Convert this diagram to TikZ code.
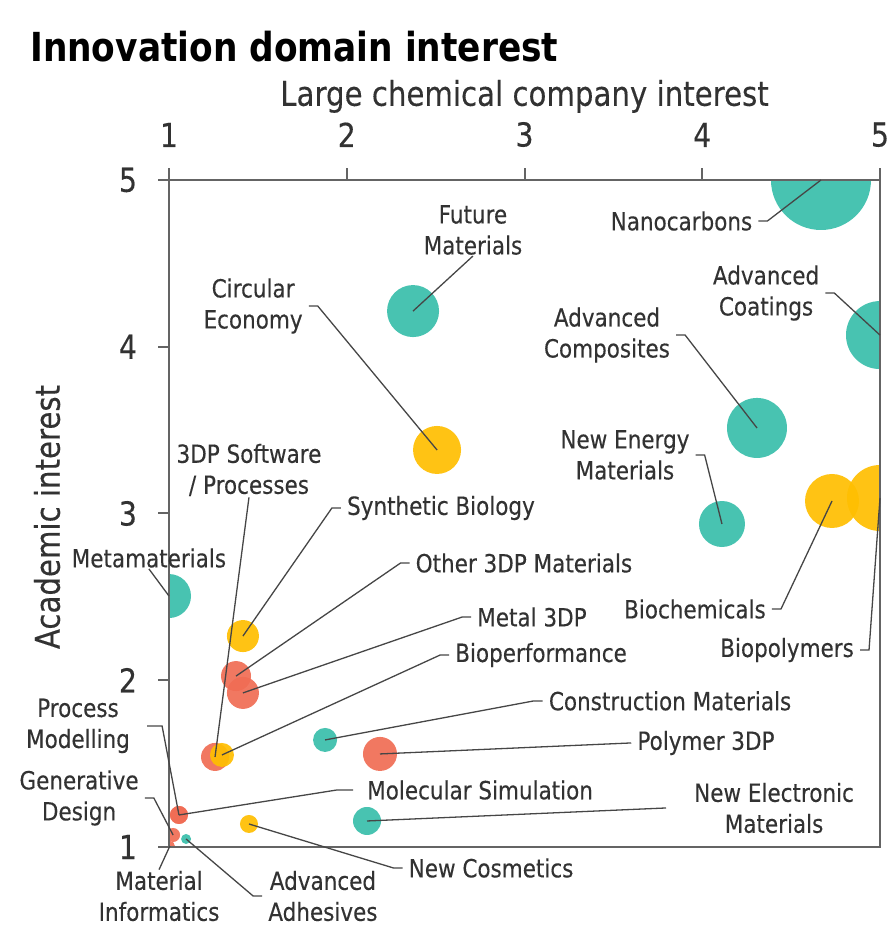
\documentclass[tikz,border=0pt]{standalone}
\usepackage{fontspec}
\setmainfont[FakeStretch=0.86,UprightFeatures={FakeBold=0.3}]{DejaVu Sans}
\usetikzlibrary{positioning}
\definecolor{mteal}{RGB}{56,190,170}
\definecolor{mgold}{RGB}{255,190,0}
\definecolor{mcoral}{RGB}{240,108,84}
\definecolor{axgray}{RGB}{100,100,100}
\definecolor{txtgray}{RGB}{50,50,50}
\definecolor{leadgray}{RGB}{70,70,70}
\begin{document}
\begin{tikzpicture}[x=177.75pt,y=166.75pt]
	\tikzset{bubble/.style = {circle,inner sep=0pt,draw=none,fill=#1,fill opacity=.92}}
	\tikzset{lbl/.style = {text=txtgray,align=center,inner xsep=6pt,inner ysep=1pt,font=\fontsize{25}{31}\selectfont}}
	\tikzset{leader/.style = {draw=leadgray,line width=1.3pt}}
	\tikzset{axis/.style = {draw=axgray,line width=2pt}}
	\tikzset{ticklbl/.style = {text=txtgray,inner sep=0pt,font=\fontsize{33}{33}\selectfont}}
	\tikzset{axtitle/.style = {text=txtgray,inner sep=0pt,font=\fontsize{34}{34}\selectfont}}
	\useasboundingbox (0.0492,0.5142) rectangle (5.0731,6.0795);
	% bubbles
	\begin{scope}
		\clip (1,1) rectangle (5,5);
		\node[bubble=mteal,minimum size=100pt] (nano) at (4.668,5.0) {};
		\node[bubble=mteal,minimum size=68pt] (coat) at (5.0,4.07) {};
		\node[bubble=mteal,minimum size=52pt] (fut) at (2.373,4.214) {};
		\node[bubble=mgold,minimum size=48pt] (circ) at (2.508,3.381) {};
		\node[bubble=mteal,minimum size=60pt] (comp) at (4.308,3.513) {};
		\node[bubble=mteal,minimum size=46pt] (energy) at (4.111,2.937) {};
		\node[bubble=mgold,minimum size=54pt] (biochem) at (4.730,3.075) {};
		\node[bubble=mgold,minimum size=66pt] (biopoly) at (5.0,3.093) {};
		\node[bubble=mteal,minimum size=44pt] (meta) at (1.0,2.505) {};
		\node[bubble=mgold,minimum size=32pt] (syn) at (1.416,2.265) {};
		\node[bubble=mcoral,minimum size=30pt] (other) at (1.377,2.025) {};
		\node[bubble=mcoral,minimum size=32pt] (metal) at (1.416,1.924) {};
		\node[bubble=mcoral,minimum size=28pt] (soft) at (1.259,1.540) {};
		\node[bubble=mgold,minimum size=24pt] (bioperf) at (1.298,1.552) {};
		\node[bubble=mteal,minimum size=24pt] (constr) at (1.878,1.642) {};
		\node[bubble=mcoral,minimum size=34pt] (poly) at (2.187,1.558) {};
		\node[bubble=mcoral,minimum size=18pt] (molsim) at (1.056,1.192) {};
		\node[bubble=mcoral,minimum size=18pt] (procmod) at (1.056,1.192) {};
		\node[bubble=mcoral,minimum size=14pt] (gendes) at (1.023,1.072) {};
		\node[bubble=mcoral,minimum size=10pt] (matinf) at (1.005,1.006) {};
		\node[bubble=mteal,minimum size=10pt] (adh) at (1.096,1.048) {};
		\node[bubble=mgold,minimum size=18pt] (cosm) at (1.450,1.138) {};
		\node[bubble=mteal,minimum size=28pt] (elec) at (2.114,1.156) {};
	\end{scope}
	% axes
	\draw[axis] (1,1) rectangle (5,5);
	\foreach \v in {1,...,5} {
		\draw[axis] (\v,5) -- ++(0,12pt) node[ticklbl,above=20pt] (tx\v) {\v};
		\draw[axis] (1,\v) -- ++(-11pt,0) node[ticklbl,left=20pt] (ty\v) {\v};
	}
	\node[anchor=west,inner sep=0pt,font=\bfseries\fontsize{40}{40}\selectfont] (title) at (0.218,5.798) {Innovation domain interest};
	\node[axtitle,above=8pt of tx3] (xtitle) {Large chemical company interest};
	\node[axtitle,rotate=90] (ytitle) at (0.314,2.979) {Academic interest};
	% labels
	\node[lbl] (lNano) at (3.883,4.754) {Nanocarbons};
	\node[lbl] (lCoat) at (4.359,4.322) {Advanced\\Coatings};
	\node[lbl] (lFut) at (2.710,4.700) {Future\\Materials};
	\node[lbl] (lCirc) at (1.473,4.244) {Circular\\Economy};
	\node[lbl] (lComp) at (3.464,4.070) {Advanced\\Composites};
	\node[lbl] (lEnergy) at (3.565,3.351) {New Energy\\Materials};
	\node[lbl] (lBiochem) at (3.959,2.427) {Biochemicals};
	\node[lbl] (lBiopoly) at (4.477,2.181) {Biopolymers};
	\node[lbl] (lMeta) at (0.887,2.733) {Metamaterials};
	\node[lbl] (lSoft) at (1.450,3.261) {3DP Software\\/ Processes};
	\node[lbl] (lSyn) at (2.530,3.033) {Synthetic Biology};
	\node[lbl] (lOther) at (2.997,2.703) {Other 3DP Materials};
	\node[lbl] (lMetal) at (3.042,2.379) {Metal 3DP};
	\node[lbl] (lBioperf) at (3.093,2.151) {Bioperformance};
	\node[lbl] (lConstr) at (3.819,1.876) {Construction Materials};
	\node[lbl] (lPoly) at (4.021,1.624) {Polymer 3DP};
	\node[lbl] (lMol) at (2.750,1.342) {Molecular Simulation};
	\node[lbl] (lElec) at (4.404,1.234) {New Electronic\\Materials};
	\node[lbl] (lProc) at (0.488,1.726) {Process\\Modelling};
	\node[lbl] (lGen) at (0.494,1.294) {Generative\\Design};
	\node[lbl] (lInf) at (0.944,0.706) {Material\\Informatics};
	\node[lbl] (lAdh) at (1.866,0.706) {Advanced\\Adhesives};
	\node[lbl] (lCos) at (2.812,0.874) {New Cosmetics};
	% leader lines
	\draw[leader] (nano.center) -- ([xshift=9pt]lNano.east) -- (lNano.east);
	\draw[leader] (coat.center) -- ([xshift=9pt]lCoat.east) -- (lCoat.east);
	\draw[leader] (fut.center) -- (lFut.south);
	\draw[leader] (circ.center) -- ([xshift=9pt]lCirc.east) -- (lCirc.east);
	\draw[leader] (comp.center) -- ([xshift=9pt]lComp.east) -- (lComp.east);
	\draw[leader] (energy.center) -- ([xshift=9pt]lEnergy.east) -- (lEnergy.east);
	\draw[leader] (biochem.center) -- ([xshift=9pt]lBiochem.east) -- (lBiochem.east);
	\draw[leader] (biopoly.center) -- ([xshift=9pt]lBiopoly.east) -- (lBiopoly.east);
	\draw[leader] (meta.center) -- (lMeta.south);
	\draw[leader] (soft.center) -- (lSoft.south);
	\draw[leader] (syn.center) -- ([xshift=-9pt]lSyn.west) -- (lSyn.west);
	\draw[leader] (other.center) -- ([xshift=-9pt]lOther.west) -- (lOther.west);
	\draw[leader] (metal.center) -- ([xshift=-9pt]lMetal.west) -- (lMetal.west);
	\draw[leader] (bioperf.center) -- ([xshift=-9pt]lBioperf.west) -- (lBioperf.west);
	\draw[leader] (constr.center) -- ([xshift=-9pt]lConstr.west) -- (lConstr.west);
	\draw[leader] (poly.center) -- (lPoly.west);
	\draw[leader] (molsim.center) -- ([xshift=-24pt]lMol.west) -- ([xshift=-8pt]lMol.west);
	\draw[leader] (elec.center) -- ([xshift=-22pt]lElec.west);
	\draw[leader] (procmod.center) -- ([xshift=26pt]lProc.east) -- ([xshift=11pt]lProc.east);
	\draw[leader] (gendes.center) -- ([xshift=9pt]lGen.east) -- (lGen.east);
	\draw[leader] (matinf.center) -- (lInf.north);
	\draw[leader] (adh.center) -- ([xshift=-9pt]lAdh.west) -- (lAdh.west);
	\draw[leader] (cosm.center) -- ([xshift=-9pt]lCos.west) -- (lCos.west);
\end{tikzpicture}
\end{document}
